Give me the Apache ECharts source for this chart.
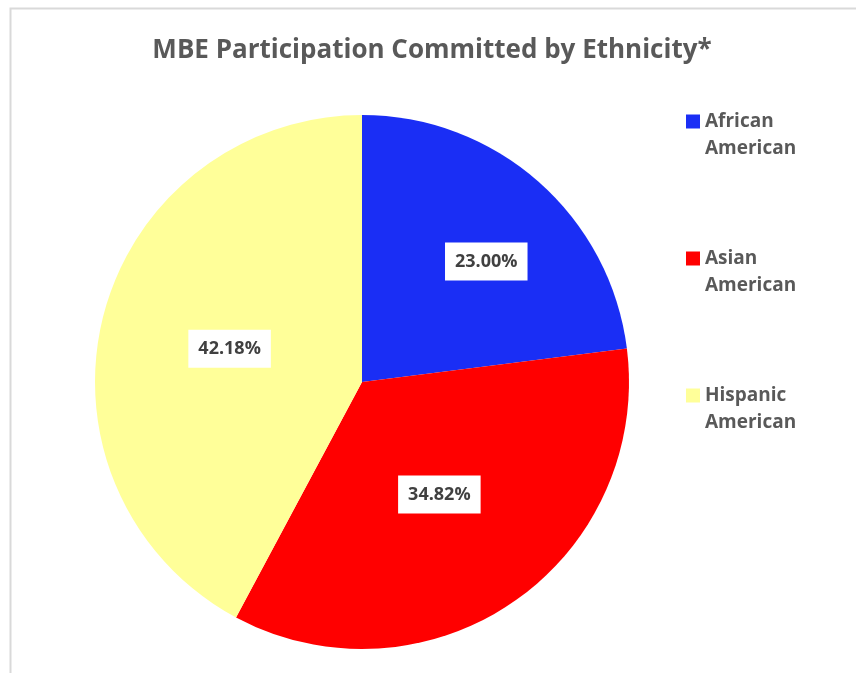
<!DOCTYPE html>
<html>
<head>
<meta charset="utf-8">
<script src="https://cdn.jsdelivr.net/npm/echarts@6/dist/echarts.min.js"></script>
<style>
html,body{margin:0;padding:0;background:#fff;}
#chart{width:856px;height:673px;}
</style>
</head>
<body>
<div id="chart"></div>
<script>
const titleText = 'MBE Participation Committed by Ethnicity*';
const categories = ['African American', 'Asian American', 'Hispanic American'];
const values = [23.00, 34.82, 42.18];
const colors = ['#1A2EF5', '#FF0000', '#FFFF99'];

const chart = echarts.init(document.getElementById('chart'));
const font = '"Open Sans", sans-serif';
chart.setOption({
  animation: false,
  backgroundColor: '#fff',
  graphic: [{
    type: 'rect', left: 8, top: 6,
    shape: {width: 900, height: 700},
    style: {fill: 'none', stroke: '#d9d9d9', lineWidth: 2},
    silent: true, z: -1
  }],
  title: {
    text: titleText,
    left: 427, textAlign: 'center', top: 33,
    textStyle: {fontFamily: font, fontSize: 26, fontWeight: 'bold', color: '#595959'}
  },
  legend: {
    orient: 'vertical',
    left: 681, top: 76,
    itemWidth: 14, itemHeight: 14,
    itemGap: 56,
    icon: 'rect',
    data: categories,
    formatter: n => '{s| }\n' + n.replace(' ', '\n'),
    textStyle: {fontFamily: font, fontSize: 19, fontWeight: 'bold', color: '#595959', lineHeight: 27,
      rich: {s: {fontSize: 19, lineHeight: 27}}}
  },
  series: [{
    type: 'pie',
    center: [362, 382],
    radius: 267,
    startAngle: 90,
    clockwise: true,
    color: colors,
    data: categories.map((c, i) => ({name: c, value: values[i]})),
    label: {
      show: true,
      position: 'inside',
      formatter: p => p.value.toFixed(2) + '%',
      fontFamily: font, fontSize: 18, fontWeight: 'bold', color: '#404040',
      backgroundColor: '#fff',
      padding: [10, 10, 10, 10]
    },
    labelLayout: p => p.dataIndex === 0 ? {dx: 34, dy: -18} : {},
    labelLine: {show: false},
    emphasis: {disabled: true}
  }]
});
</script>
</body>
</html>
